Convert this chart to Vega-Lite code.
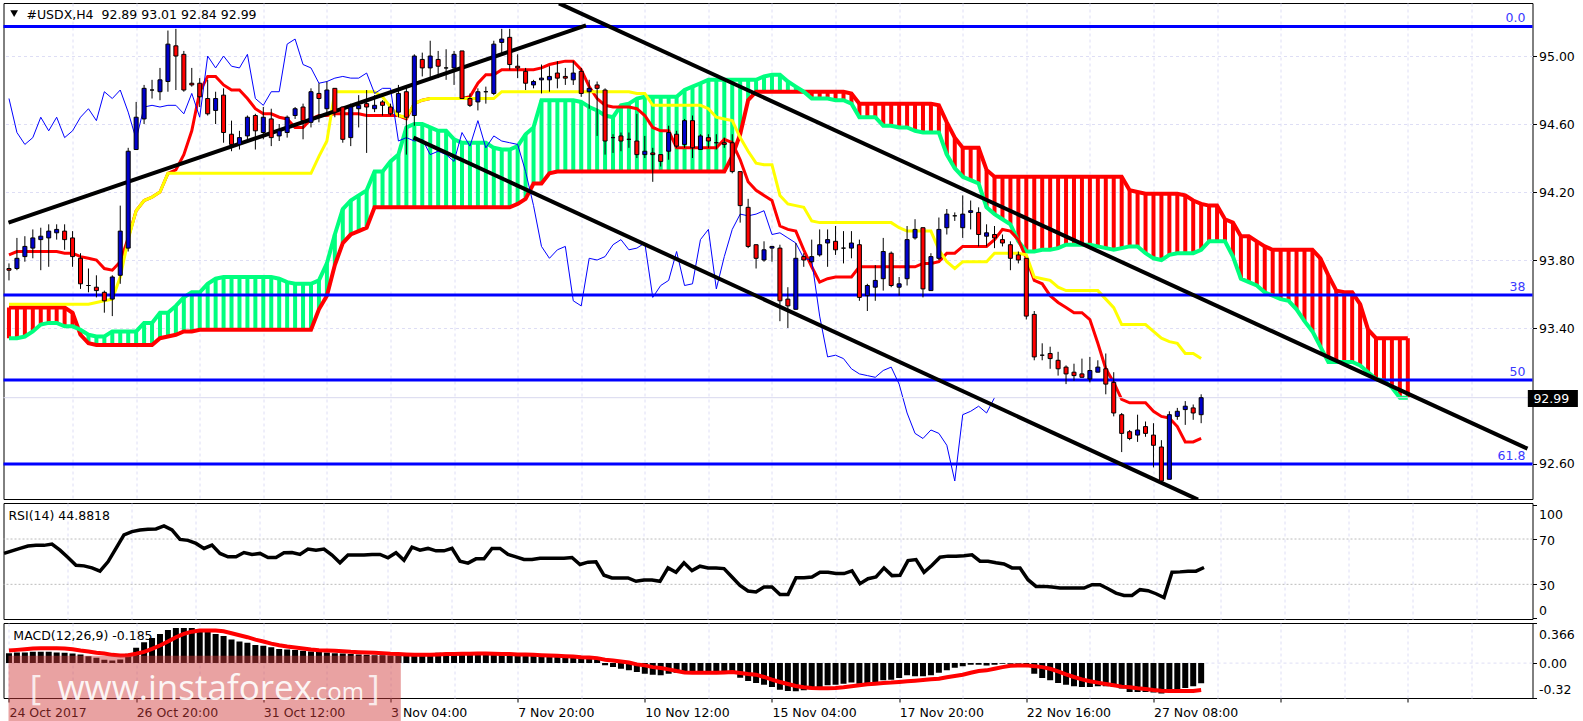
{"$schema":"https://vega.github.io/schema/vega-lite/v6.json","background":"white","padding":{"left":1.5,"top":2,"right":0,"bottom":0},"autosize":{"type":"pad"},"spacing":2,
"config":{"view":{"stroke":"#000","strokeWidth":1},"text":{"font":"DejaVu Sans","fontSize":12.5}},
"datasets":{
"fib":[{"name":"0.0","price":95.174},{"name":"38","price":93.594},{"name":"50","price":93.094},{"name":"61.8","price":92.6}],
"trend":[{"line":"rising","bar":-0.06,"price":94.02},{"line":"rising","bar":72.6,"price":95.18},{"line":"channel top","bar":69.2,"price":95.31},{"line":"channel top","bar":191.06,"price":92.69},{"line":"channel bottom","bar":50.9,"price":94.52},{"line":"channel bottom","bar":149.6,"price":92.39}],
"cloud":[
{"bar":0,"a":93.34,"b":93.52},{"bar":1,"a":93.34,"b":93.52},{"bar":2,"a":93.35,"b":93.52},{"bar":3,"a":93.38,"b":93.52},{"bar":4,"a":93.42,"b":93.52},{"bar":5,"a":93.43,"b":93.52},{"bar":6,"a":93.43,"b":93.52},{"bar":7,"a":93.41,"b":93.52},{"bar":8,"a":93.41,"b":93.49},{"bar":9,"a":93.39,"b":93.36},{"bar":10,"a":93.36,"b":93.31},{"bar":11,"a":93.35,"b":93.3},{"bar":12,"a":93.35,"b":93.3},{"bar":13,"a":93.38,"b":93.3},{"bar":14,"a":93.38,"b":93.3},{"bar":15,"a":93.38,"b":93.3},{"bar":16,"a":93.38,"b":93.3},{"bar":17,"a":93.43,"b":93.3},{"bar":18,"a":93.43,"b":93.3},{"bar":19,"a":93.49,"b":93.34},
{"bar":20,"a":93.49,"b":93.35},{"bar":21,"a":93.53,"b":93.36},{"bar":22,"a":93.58,"b":93.38},{"bar":23,"a":93.61,"b":93.38},{"bar":24,"a":93.61,"b":93.39},{"bar":25,"a":93.66,"b":93.39},{"bar":26,"a":93.69,"b":93.39},{"bar":27,"a":93.7,"b":93.39},{"bar":28,"a":93.7,"b":93.39},{"bar":29,"a":93.7,"b":93.39},{"bar":30,"a":93.7,"b":93.39},{"bar":31,"a":93.7,"b":93.39},{"bar":32,"a":93.7,"b":93.39},{"bar":33,"a":93.7,"b":93.39},{"bar":34,"a":93.69,"b":93.39},{"bar":35,"a":93.67,"b":93.39},{"bar":36,"a":93.66,"b":93.39},{"bar":37,"a":93.66,"b":93.39},{"bar":38,"a":93.66,"b":93.39},{"bar":39,"a":93.68,"b":93.51},
{"bar":40,"a":93.78,"b":93.59},{"bar":41,"a":93.95,"b":93.77},{"bar":42,"a":94.1,"b":93.9},{"bar":43,"a":94.15,"b":93.95},{"bar":44,"a":94.18,"b":93.97},{"bar":45,"a":94.21,"b":93.99},{"bar":46,"a":94.32,"b":94.11},{"bar":47,"a":94.32,"b":94.11},{"bar":48,"a":94.38,"b":94.11},{"bar":49,"a":94.42,"b":94.11},{"bar":50,"a":94.58,"b":94.11},{"bar":51,"a":94.6,"b":94.11},{"bar":52,"a":94.6,"b":94.11},{"bar":53,"a":94.58,"b":94.11},{"bar":54,"a":94.56,"b":94.11},{"bar":55,"a":94.56,"b":94.11},{"bar":56,"a":94.51,"b":94.11},{"bar":57,"a":94.49,"b":94.11},{"bar":58,"a":94.49,"b":94.11},{"bar":59,"a":94.49,"b":94.11},
{"bar":60,"a":94.49,"b":94.11},{"bar":61,"a":94.46,"b":94.11},{"bar":62,"a":94.45,"b":94.11},{"bar":63,"a":94.45,"b":94.11},{"bar":64,"a":94.47,"b":94.13},{"bar":65,"a":94.54,"b":94.16},{"bar":66,"a":94.58,"b":94.25},{"bar":67,"a":94.74,"b":94.25},{"bar":68,"a":94.74,"b":94.31},{"bar":69,"a":94.74,"b":94.32},{"bar":70,"a":94.74,"b":94.32},{"bar":71,"a":94.74,"b":94.32},{"bar":72,"a":94.73,"b":94.32},{"bar":73,"a":94.7,"b":94.32},{"bar":74,"a":94.68,"b":94.32},{"bar":75,"a":94.65,"b":94.32},{"bar":76,"a":94.64,"b":94.32},{"bar":77,"a":94.71,"b":94.32},{"bar":78,"a":94.72,"b":94.32},{"bar":79,"a":94.75,"b":94.32},
{"bar":80,"a":94.76,"b":94.32},{"bar":81,"a":94.76,"b":94.32},{"bar":82,"a":94.76,"b":94.32},{"bar":83,"a":94.76,"b":94.32},{"bar":84,"a":94.76,"b":94.32},{"bar":85,"a":94.8,"b":94.32},{"bar":86,"a":94.82,"b":94.32},{"bar":87,"a":94.84,"b":94.32},{"bar":88,"a":94.86,"b":94.32},{"bar":89,"a":94.86,"b":94.32},{"bar":90,"a":94.86,"b":94.32},{"bar":91,"a":94.86,"b":94.41},{"bar":92,"a":94.86,"b":94.54},{"bar":93,"a":94.86,"b":94.74},{"bar":94,"a":94.86,"b":94.79},{"bar":95,"a":94.88,"b":94.79},{"bar":96,"a":94.89,"b":94.79},{"bar":97,"a":94.89,"b":94.79},{"bar":98,"a":94.85,"b":94.79},{"bar":99,"a":94.82,"b":94.79},
{"bar":100,"a":94.79,"b":94.79},{"bar":101,"a":94.75,"b":94.79},{"bar":102,"a":94.75,"b":94.79},{"bar":103,"a":94.75,"b":94.79},{"bar":104,"a":94.74,"b":94.79},{"bar":105,"a":94.74,"b":94.79},{"bar":106,"a":94.72,"b":94.78},{"bar":107,"a":94.64,"b":94.72},{"bar":108,"a":94.64,"b":94.72},{"bar":109,"a":94.64,"b":94.72},{"bar":110,"a":94.59,"b":94.72},{"bar":111,"a":94.59,"b":94.72},{"bar":112,"a":94.58,"b":94.72},{"bar":113,"a":94.58,"b":94.72},{"bar":114,"a":94.56,"b":94.72},{"bar":115,"a":94.55,"b":94.72},{"bar":116,"a":94.55,"b":94.72},{"bar":117,"a":94.55,"b":94.71},{"bar":118,"a":94.42,"b":94.61},{"bar":119,"a":94.34,"b":94.52},
{"bar":120,"a":94.29,"b":94.46},{"bar":121,"a":94.27,"b":94.46},{"bar":122,"a":94.25,"b":94.46},{"bar":123,"a":94.11,"b":94.33},{"bar":124,"a":94.07,"b":94.29},{"bar":125,"a":94.04,"b":94.29},{"bar":126,"a":94.01,"b":94.29},{"bar":127,"a":93.91,"b":94.29},{"bar":128,"a":93.85,"b":94.29},{"bar":129,"a":93.85,"b":94.29},{"bar":130,"a":93.86,"b":94.29},{"bar":131,"a":93.86,"b":94.29},{"bar":132,"a":93.87,"b":94.29},{"bar":133,"a":93.89,"b":94.29},{"bar":134,"a":93.89,"b":94.29},{"bar":135,"a":93.89,"b":94.29},{"bar":136,"a":93.89,"b":94.29},{"bar":137,"a":93.88,"b":94.29},{"bar":138,"a":93.87,"b":94.29},{"bar":139,"a":93.86,"b":94.29},
{"bar":140,"a":93.87,"b":94.29},{"bar":141,"a":93.88,"b":94.21},{"bar":142,"a":93.88,"b":94.2},{"bar":143,"a":93.84,"b":94.19},{"bar":144,"a":93.81,"b":94.19},{"bar":145,"a":93.8,"b":94.19},{"bar":146,"a":93.83,"b":94.19},{"bar":147,"a":93.84,"b":94.19},{"bar":148,"a":93.84,"b":94.18},{"bar":149,"a":93.84,"b":94.15},{"bar":150,"a":93.86,"b":94.13},{"bar":151,"a":93.91,"b":94.12},{"bar":152,"a":93.91,"b":94.12},{"bar":153,"a":93.91,"b":94.04},{"bar":154,"a":93.82,"b":94.02},{"bar":155,"a":93.69,"b":93.94},{"bar":156,"a":93.67,"b":93.94},{"bar":157,"a":93.65,"b":93.91},{"bar":158,"a":93.61,"b":93.88},{"bar":159,"a":93.59,"b":93.86},
{"bar":160,"a":93.57,"b":93.86},{"bar":161,"a":93.56,"b":93.86},{"bar":162,"a":93.51,"b":93.86},{"bar":163,"a":93.44,"b":93.86},{"bar":164,"a":93.38,"b":93.86},{"bar":165,"a":93.29,"b":93.81},{"bar":166,"a":93.2,"b":93.71},{"bar":167,"a":93.2,"b":93.62},{"bar":168,"a":93.2,"b":93.61},{"bar":169,"a":93.2,"b":93.61},{"bar":170,"a":93.18,"b":93.54},{"bar":171,"a":93.14,"b":93.39},{"bar":172,"a":93.1,"b":93.34},{"bar":173,"a":93.09,"b":93.34},{"bar":174,"a":93.05,"b":93.34},{"bar":175,"a":92.99,"b":93.34},{"bar":176,"a":92.99,"b":93.34}],
"candles":[
{"bar":0,"o":93.75,"h":93.78,"l":93.68,"c":93.74,"tenkan":93.83,"kijun":93.54,"chikou":94.75,"rsi":57.3,"hist":0.092,"signal":0.116},
{"bar":1,"o":93.75,"h":93.93,"l":93.74,"c":93.81,"tenkan":93.85,"kijun":93.54,"chikou":94.55,"rsi":59.6,"hist":0.098,"signal":0.122},
{"bar":2,"o":93.82,"h":93.94,"l":93.79,"c":93.88,"tenkan":93.85,"kijun":93.54,"chikou":94.48,"rsi":61.7,"hist":0.098,"signal":0.128},
{"bar":3,"o":93.87,"h":93.98,"l":93.81,"c":93.93,"tenkan":93.85,"kijun":93.54,"chikou":94.52,"rsi":63.8,"hist":0.104,"signal":0.135},
{"bar":4,"o":93.92,"h":93.99,"l":93.74,"c":93.94,"tenkan":93.85,"kijun":93.54,"chikou":94.64,"rsi":64.4,"hist":0.104,"signal":0.138},
{"bar":5,"o":93.93,"h":94.01,"l":93.76,"c":93.97,"tenkan":93.85,"kijun":93.54,"chikou":94.56,"rsi":64.4,"hist":0.104,"signal":0.138},
{"bar":6,"o":93.96,"h":94.01,"l":93.92,"c":93.98,"tenkan":93.85,"kijun":93.54,"chikou":94.64,"rsi":65.6,"hist":0.098,"signal":0.138},
{"bar":7,"o":93.97,"h":94.01,"l":93.86,"c":93.92,"tenkan":93.84,"kijun":93.54,"chikou":94.52,"rsi":60.2,"hist":0.095,"signal":0.135},
{"bar":8,"o":93.93,"h":93.97,"l":93.76,"c":93.82,"tenkan":93.84,"kijun":93.54,"chikou":94.56,"rsi":53.7,"hist":0.089,"signal":0.128},
{"bar":9,"o":93.81,"h":93.84,"l":93.63,"c":93.66,"tenkan":93.82,"kijun":93.54,"chikou":94.64,"rsi":46.9,"hist":0.08,"signal":0.116},
{"bar":10,"o":93.65,"h":93.75,"l":93.61,"c":93.65,"tenkan":93.81,"kijun":93.54,"chikou":94.69,"rsi":46.3,"hist":0.064,"signal":0.107},
{"bar":11,"o":93.64,"h":93.71,"l":93.58,"c":93.62,"tenkan":93.8,"kijun":93.55,"chikou":94.62,"rsi":44.5,"hist":0.049,"signal":0.095},
{"bar":12,"o":93.61,"h":93.62,"l":93.49,"c":93.56,"tenkan":93.75,"kijun":93.56,"chikou":94.79,"rsi":41.6,"hist":0.03,"signal":0.089},
{"bar":13,"o":93.57,"h":93.71,"l":93.47,"c":93.7,"tenkan":93.74,"kijun":93.57,"chikou":94.75,"rsi":49.9,"hist":0.024,"signal":0.076},
{"bar":14,"o":93.71,"h":94.12,"l":93.66,"c":93.97,"tenkan":93.79,"kijun":93.7,"chikou":94.8,"rsi":61.7,"hist":0.034,"signal":0.07},
{"bar":15,"o":93.87,"h":94.46,"l":93.85,"c":94.44,"tenkan":93.93,"kijun":93.92,"chikou":94.67,"rsi":73.6,"hist":0.086,"signal":0.073},
{"bar":16,"o":94.45,"h":94.73,"l":94.45,"c":94.64,"tenkan":94.09,"kijun":94.09,"chikou":94.51,"rsi":76.5,"hist":0.141,"signal":0.086},
{"bar":17,"o":94.63,"h":94.83,"l":94.6,"c":94.81,"tenkan":94.15,"kijun":94.15,"chikou":94.7,"rsi":78,"hist":0.193,"signal":0.104},
{"bar":18,"o":94.8,"h":94.86,"l":94.75,"c":94.8,"tenkan":94.17,"kijun":94.17,"chikou":94.71,"rsi":78.6,"hist":0.232,"signal":0.131},
{"bar":19,"o":94.79,"h":94.93,"l":94.74,"c":94.86,"tenkan":94.2,"kijun":94.2,"chikou":94.7,"rsi":78.9,"hist":0.269,"signal":0.162},
{"bar":20,"o":94.85,"h":95.15,"l":94.79,"c":95.07,"tenkan":94.31,"kijun":94.31,"chikou":94.71,"rsi":81.6,"hist":0.306,"signal":0.199},
{"bar":21,"o":95.06,"h":95.16,"l":94.8,"c":95,"tenkan":94.33,"kijun":94.31,"chikou":94.71,"rsi":78,"hist":0.324,"signal":0.239},
{"bar":22,"o":95.01,"h":95.03,"l":94.79,"c":94.8,"tenkan":94.42,"kijun":94.31,"chikou":94.66,"rsi":69.7,"hist":0.324,"signal":0.269},
{"bar":23,"o":94.84,"h":94.93,"l":94.82,"c":94.83,"tenkan":94.56,"kijun":94.31,"chikou":94.78,"rsi":68.8,"hist":0.324,"signal":0.29},
{"bar":24,"o":94.84,"h":94.87,"l":94.7,"c":94.76,"tenkan":94.79,"kijun":94.31,"chikou":94.64,"rsi":66.1,"hist":0.306,"signal":0.3},
{"bar":25,"o":94.75,"h":94.86,"l":94.65,"c":94.66,"tenkan":94.88,"kijun":94.31,"chikou":95,"rsi":61.7,"hist":0.29,"signal":0.3},
{"bar":26,"o":94.68,"h":94.79,"l":94.6,"c":94.75,"tenkan":94.88,"kijun":94.31,"chikou":94.93,"rsi":64.7,"hist":0.269,"signal":0.3},
{"bar":27,"o":94.77,"h":94.81,"l":94.49,"c":94.55,"tenkan":94.83,"kijun":94.31,"chikou":95,"rsi":57.3,"hist":0.251,"signal":0.294},
{"bar":28,"o":94.54,"h":94.62,"l":94.44,"c":94.48,"tenkan":94.8,"kijun":94.31,"chikou":94.94,"rsi":54.3,"hist":0.217,"signal":0.275},
{"bar":29,"o":94.48,"h":94.56,"l":94.45,"c":94.52,"tenkan":94.8,"kijun":94.31,"chikou":94.93,"rsi":54.3,"hist":0.199,"signal":0.257},
{"bar":30,"o":94.53,"h":94.65,"l":94.51,"c":94.64,"tenkan":94.75,"kijun":94.31,"chikou":95.01,"rsi":58.1,"hist":0.187,"signal":0.239},
{"bar":31,"o":94.65,"h":94.66,"l":94.45,"c":94.56,"tenkan":94.69,"kijun":94.31,"chikou":94.75,"rsi":56.4,"hist":0.168,"signal":0.217},
{"bar":32,"o":94.55,"h":94.7,"l":94.51,"c":94.64,"tenkan":94.66,"kijun":94.31,"chikou":94.71,"rsi":57.3,"hist":0.159,"signal":0.199},
{"bar":33,"o":94.63,"h":94.69,"l":94.47,"c":94.52,"tenkan":94.66,"kijun":94.31,"chikou":94.79,"rsi":53.7,"hist":0.147,"signal":0.18},
{"bar":34,"o":94.53,"h":94.6,"l":94.5,"c":94.56,"tenkan":94.64,"kijun":94.31,"chikou":94.79,"rsi":53.7,"hist":0.131,"signal":0.165},
{"bar":35,"o":94.55,"h":94.65,"l":94.52,"c":94.64,"tenkan":94.63,"kijun":94.31,"chikou":95.07,"rsi":57.9,"hist":0.125,"signal":0.153},
{"bar":36,"o":94.65,"h":94.7,"l":94.63,"c":94.69,"tenkan":94.58,"kijun":94.31,"chikou":95.1,"rsi":58.1,"hist":0.122,"signal":0.144},
{"bar":37,"o":94.7,"h":94.72,"l":94.51,"c":94.62,"tenkan":94.58,"kijun":94.31,"chikou":94.95,"rsi":56.4,"hist":0.113,"signal":0.135},
{"bar":38,"o":94.61,"h":94.81,"l":94.58,"c":94.79,"tenkan":94.63,"kijun":94.31,"chikou":94.93,"rsi":61.1,"hist":0.107,"signal":0.125},
{"bar":39,"o":94.78,"h":94.84,"l":94.61,"c":94.75,"tenkan":94.65,"kijun":94.41,"chikou":94.84,"rsi":60.2,"hist":0.104,"signal":0.119},
{"bar":40,"o":94.69,"h":94.85,"l":94.66,"c":94.8,"tenkan":94.65,"kijun":94.5,"chikou":94.85,"rsi":61.1,"hist":0.098,"signal":0.116},
{"bar":41,"o":94.81,"h":94.81,"l":94.64,"c":94.67,"tenkan":94.66,"kijun":94.79,"chikou":94.87,"rsi":55.8,"hist":0.092,"signal":0.113},
{"bar":42,"o":94.7,"h":94.7,"l":94.49,"c":94.51,"tenkan":94.66,"kijun":94.79,"chikou":94.88,"rsi":49,"hist":0.089,"signal":0.11},
{"bar":43,"o":94.52,"h":94.72,"l":94.47,"c":94.7,"tenkan":94.66,"kijun":94.79,"chikou":94.87,"rsi":55.8,"hist":0.083,"signal":0.104},
{"bar":44,"o":94.69,"h":94.77,"l":94.58,"c":94.71,"tenkan":94.66,"kijun":94.79,"chikou":94.87,"rsi":55.8,"hist":0.08,"signal":0.101},
{"bar":45,"o":94.72,"h":94.8,"l":94.43,"c":94.7,"tenkan":94.65,"kijun":94.79,"chikou":94.9,"rsi":55.8,"hist":0.076,"signal":0.098},
{"bar":46,"o":94.69,"h":94.77,"l":94.67,"c":94.71,"tenkan":94.65,"kijun":94.79,"chikou":94.78,"rsi":56.4,"hist":0.073,"signal":0.095},
{"bar":47,"o":94.73,"h":94.74,"l":94.65,"c":94.71,"tenkan":94.65,"kijun":94.76,"chikou":94.81,"rsi":56.4,"hist":0.073,"signal":0.092},
{"bar":48,"o":94.7,"h":94.72,"l":94.65,"c":94.66,"tenkan":94.65,"kijun":94.7,"chikou":94.81,"rsi":53.4,"hist":0.07,"signal":0.086},
{"bar":49,"o":94.67,"h":94.83,"l":94.64,"c":94.78,"tenkan":94.65,"kijun":94.65,"chikou":94.5,"rsi":57.9,"hist":0.076,"signal":0.083},
{"bar":50,"o":94.79,"h":94.82,"l":94.42,"c":94.64,"tenkan":94.63,"kijun":94.64,"chikou":94.52,"rsi":51.3,"hist":0.07,"signal":0.08},
{"bar":51,"o":94.65,"h":95.01,"l":94.59,"c":95,"tenkan":94.72,"kijun":94.72,"chikou":94.5,"rsi":62.9,"hist":0.085,"signal":0.076},
{"bar":52,"o":94.98,"h":95.02,"l":94.88,"c":94.93,"tenkan":94.74,"kijun":94.74,"chikou":94.51,"rsi":60.2,"hist":0.085,"signal":0.076},
{"bar":53,"o":94.93,"h":95.09,"l":94.87,"c":95,"tenkan":94.75,"kijun":94.75,"chikou":94.42,"rsi":61.7,"hist":0.09,"signal":0.076},
{"bar":54,"o":94.98,"h":95.03,"l":94.87,"c":94.94,"tenkan":94.75,"kijun":94.75,"chikou":94.44,"rsi":59.6,"hist":0.095,"signal":0.08},
{"bar":55,"o":94.93,"h":95.04,"l":94.86,"c":94.93,"tenkan":94.75,"kijun":94.75,"chikou":94.42,"rsi":59.6,"hist":0.09,"signal":0.083},
{"bar":56,"o":94.93,"h":95.03,"l":94.83,"c":95.01,"tenkan":94.75,"kijun":94.75,"chikou":94.38,"rsi":61.7,"hist":0.1,"signal":0.083},
{"bar":57,"o":95.03,"h":95.03,"l":94.75,"c":94.75,"tenkan":94.75,"kijun":94.75,"chikou":94.55,"rsi":50.4,"hist":0.095,"signal":0.086},
{"bar":58,"o":94.75,"h":94.78,"l":94.7,"c":94.71,"tenkan":94.76,"kijun":94.75,"chikou":94.47,"rsi":48.7,"hist":0.09,"signal":0.086},
{"bar":59,"o":94.73,"h":94.81,"l":94.68,"c":94.79,"tenkan":94.84,"kijun":94.75,"chikou":94.62,"rsi":52.5,"hist":0.095,"signal":0.089},
{"bar":60,"o":94.79,"h":94.82,"l":94.72,"c":94.79,"tenkan":94.89,"kijun":94.75,"chikou":94.46,"rsi":52.5,"hist":0.09,"signal":0.089},
{"bar":61,"o":94.78,"h":95.09,"l":94.77,"c":95.07,"tenkan":94.89,"kijun":94.75,"chikou":94.53,"rsi":61.7,"hist":0.095,"signal":0.086},
{"bar":62,"o":95.08,"h":95.16,"l":95.01,"c":95.1,"tenkan":94.92,"kijun":94.79,"chikou":94.5,"rsi":61.7,"hist":0.1,"signal":0.083},
{"bar":63,"o":95.11,"h":95.16,"l":94.92,"c":94.95,"tenkan":94.92,"kijun":94.79,"chikou":94.49,"rsi":56.4,"hist":0.09,"signal":0.083},
{"bar":64,"o":94.94,"h":95.01,"l":94.87,"c":94.93,"tenkan":94.92,"kijun":94.79,"chikou":94.48,"rsi":54.3,"hist":0.085,"signal":0.08},
{"bar":65,"o":94.91,"h":94.93,"l":94.8,"c":94.84,"tenkan":94.92,"kijun":94.79,"chikou":94.32,"rsi":51.9,"hist":0.08,"signal":0.08},
{"bar":66,"o":94.83,"h":94.86,"l":94.81,"c":94.85,"tenkan":94.92,"kijun":94.79,"chikou":94.12,"rsi":51.9,"hist":0.08,"signal":0.076},
{"bar":67,"o":94.86,"h":94.95,"l":94.78,"c":94.87,"tenkan":94.93,"kijun":94.79,"chikou":93.88,"rsi":53.1,"hist":0.075,"signal":0.073},
{"bar":68,"o":94.86,"h":94.94,"l":94.79,"c":94.88,"tenkan":94.95,"kijun":94.79,"chikou":93.81,"rsi":53.1,"hist":0.075,"signal":0.07},
{"bar":69,"o":94.9,"h":94.97,"l":94.81,"c":94.87,"tenkan":94.96,"kijun":94.79,"chikou":93.86,"rsi":53.1,"hist":0.07,"signal":0.067},
{"bar":70,"o":94.88,"h":94.93,"l":94.83,"c":94.87,"tenkan":94.97,"kijun":94.79,"chikou":93.88,"rsi":53.1,"hist":0.065,"signal":0.064},
{"bar":71,"o":94.86,"h":94.97,"l":94.83,"c":94.9,"tenkan":94.97,"kijun":94.79,"chikou":93.56,"rsi":53.7,"hist":0.06,"signal":0.061},
{"bar":72,"o":94.91,"h":94.93,"l":94.76,"c":94.78,"tenkan":94.92,"kijun":94.79,"chikou":93.53,"rsi":47.5,"hist":0.055,"signal":0.055},
{"bar":73,"o":94.79,"h":94.86,"l":94.69,"c":94.81,"tenkan":94.82,"kijun":94.79,"chikou":93.81,"rsi":49.6,"hist":0.045,"signal":0.052},
{"bar":74,"o":94.83,"h":94.85,"l":94.53,"c":94.81,"tenkan":94.75,"kijun":94.79,"chikou":93.8,"rsi":49.9,"hist":0.035,"signal":0.046},
{"bar":75,"o":94.8,"h":94.81,"l":94.42,"c":94.5,"tenkan":94.71,"kijun":94.79,"chikou":93.82,"rsi":38,"hist":-0.02,"signal":0.031},
{"bar":76,"o":94.52,"h":94.54,"l":94.43,"c":94.52,"tenkan":94.7,"kijun":94.79,"chikou":93.89,"rsi":35.6,"hist":-0.037,"signal":0.024},
{"bar":77,"o":94.53,"h":94.55,"l":94.44,"c":94.5,"tenkan":94.7,"kijun":94.79,"chikou":93.92,"rsi":35.6,"hist":-0.052,"signal":0.015},
{"bar":78,"o":94.51,"h":94.55,"l":94.46,"c":94.51,"tenkan":94.7,"kijun":94.79,"chikou":93.86,"rsi":35.6,"hist":-0.067,"signal":0.006},
{"bar":79,"o":94.5,"h":94.66,"l":94.4,"c":94.42,"tenkan":94.69,"kijun":94.78,"chikou":93.87,"rsi":32.7,"hist":-0.083,"signal":-0.012},
{"bar":80,"o":94.42,"h":94.53,"l":94.4,"c":94.44,"tenkan":94.65,"kijun":94.78,"chikou":93.9,"rsi":33.9,"hist":-0.098,"signal":-0.021},
{"bar":81,"o":94.43,"h":94.46,"l":94.26,"c":94.42,"tenkan":94.58,"kijun":94.71,"chikou":93.58,"rsi":33.9,"hist":-0.107,"signal":-0.037},
{"bar":82,"o":94.42,"h":94.42,"l":94.35,"c":94.38,"tenkan":94.56,"kijun":94.71,"chikou":93.65,"rsi":32.7,"hist":-0.113,"signal":-0.046},
{"bar":83,"o":94.44,"h":94.59,"l":94.39,"c":94.55,"tenkan":94.56,"kijun":94.71,"chikou":93.68,"rsi":44.5,"hist":-0.098,"signal":-0.058},
{"bar":84,"o":94.54,"h":94.56,"l":94.46,"c":94.47,"tenkan":94.46,"kijun":94.71,"chikou":93.85,"rsi":40.7,"hist":-0.089,"signal":-0.073},
{"bar":85,"o":94.48,"h":94.63,"l":94.46,"c":94.62,"tenkan":94.46,"kijun":94.71,"chikou":93.65,"rsi":49,"hist":-0.083,"signal":-0.086},
{"bar":86,"o":94.62,"h":94.65,"l":94.4,"c":94.46,"tenkan":94.46,"kijun":94.71,"chikou":93.66,"rsi":42.1,"hist":-0.083,"signal":-0.089},
{"bar":87,"o":94.45,"h":94.54,"l":94.45,"c":94.53,"tenkan":94.46,"kijun":94.71,"chikou":93.92,"rsi":46,"hist":-0.083,"signal":-0.089},
{"bar":88,"o":94.52,"h":94.54,"l":94.46,"c":94.5,"tenkan":94.46,"kijun":94.69,"chikou":93.98,"rsi":44.5,"hist":-0.083,"signal":-0.089},
{"bar":89,"o":94.49,"h":94.54,"l":94.45,"c":94.49,"tenkan":94.46,"kijun":94.64,"chikou":93.63,"rsi":44.5,"hist":-0.076,"signal":-0.089},
{"bar":90,"o":94.49,"h":94.52,"l":94.46,"c":94.48,"tenkan":94.51,"kijun":94.63,"chikou":93.82,"rsi":43.9,"hist":-0.083,"signal":-0.086},
{"bar":91,"o":94.49,"h":94.54,"l":94.31,"c":94.32,"tenkan":94.49,"kijun":94.62,"chikou":93.98,"rsi":36.5,"hist":-0.098,"signal":-0.083},
{"bar":92,"o":94.32,"h":94.32,"l":94.02,"c":94.12,"tenkan":94.39,"kijun":94.52,"chikou":94.07,"rsi":29.1,"hist":-0.135,"signal":-0.092},
{"bar":93,"o":94.11,"h":94.16,"l":93.87,"c":93.88,"tenkan":94.26,"kijun":94.44,"chikou":94.06,"rsi":24.1,"hist":-0.165,"signal":-0.101},
{"bar":94,"o":93.89,"h":93.89,"l":93.75,"c":93.81,"tenkan":94.21,"kijun":94.37,"chikou":94.07,"rsi":23.2,"hist":-0.183,"signal":-0.107},
{"bar":95,"o":93.8,"h":93.91,"l":93.79,"c":93.86,"tenkan":94.18,"kijun":94.36,"chikou":94.09,"rsi":27.6,"hist":-0.199,"signal":-0.128},
{"bar":96,"o":93.87,"h":93.88,"l":93.79,"c":93.88,"tenkan":94.15,"kijun":94.36,"chikou":93.95,"rsi":27.6,"hist":-0.22,"signal":-0.153},
{"bar":97,"o":93.87,"h":93.89,"l":93.44,"c":93.56,"tenkan":94,"kijun":94.18,"chikou":93.96,"rsi":21.1,"hist":-0.245,"signal":-0.174},
{"bar":98,"o":93.57,"h":93.64,"l":93.4,"c":93.53,"tenkan":93.98,"kijun":94.13,"chikou":93.93,"rsi":21.1,"hist":-0.257,"signal":-0.193},
{"bar":99,"o":93.51,"h":93.9,"l":93.51,"c":93.81,"tenkan":93.97,"kijun":94.12,"chikou":93.9,"rsi":35.9,"hist":-0.26,"signal":-0.211},
{"bar":100,"o":93.82,"h":93.84,"l":93.76,"c":93.8,"tenkan":93.86,"kijun":94.11,"chikou":93.81,"rsi":35.9,"hist":-0.25,"signal":-0.223},
{"bar":101,"o":93.79,"h":93.92,"l":93.78,"c":93.82,"tenkan":93.76,"kijun":94.03,"chikou":93.8,"rsi":36.5,"hist":-0.242,"signal":-0.229},
{"bar":102,"o":93.83,"h":93.98,"l":93.82,"c":93.89,"tenkan":93.67,"kijun":94.02,"chikou":93.47,"rsi":40.7,"hist":-0.226,"signal":-0.232},
{"bar":103,"o":93.9,"h":93.98,"l":93.76,"c":93.92,"tenkan":93.69,"kijun":94.02,"chikou":93.23,"rsi":40.7,"hist":-0.205,"signal":-0.232},
{"bar":104,"o":93.91,"h":94,"l":93.83,"c":93.86,"tenkan":93.7,"kijun":94.02,"chikou":93.24,"rsi":39.5,"hist":-0.199,"signal":-0.229},
{"bar":105,"o":93.87,"h":93.97,"l":93.78,"c":93.87,"tenkan":93.7,"kijun":94.02,"chikou":93.22,"rsi":39.5,"hist":-0.19,"signal":-0.223},
{"bar":106,"o":93.87,"h":93.97,"l":93.81,"c":93.9,"tenkan":93.7,"kijun":94.02,"chikou":93.16,"rsi":41.9,"hist":-0.18,"signal":-0.214},
{"bar":107,"o":93.89,"h":93.92,"l":93.56,"c":93.58,"tenkan":93.76,"kijun":94.02,"chikou":93.13,"rsi":30.6,"hist":-0.19,"signal":-0.205},
{"bar":108,"o":93.59,"h":93.66,"l":93.5,"c":93.65,"tenkan":93.76,"kijun":94.02,"chikou":93.12,"rsi":35,"hist":-0.183,"signal":-0.196},
{"bar":109,"o":93.64,"h":93.77,"l":93.56,"c":93.68,"tenkan":93.76,"kijun":94.02,"chikou":93.11,"rsi":36.5,"hist":-0.174,"signal":-0.19},
{"bar":110,"o":93.69,"h":93.93,"l":93.62,"c":93.85,"tenkan":93.76,"kijun":94.02,"chikou":93.15,"rsi":44.5,"hist":-0.159,"signal":-0.183},
{"bar":111,"o":93.84,"h":93.85,"l":93.64,"c":93.65,"tenkan":93.76,"kijun":94.02,"chikou":93.17,"rsi":37.7,"hist":-0.153,"signal":-0.18},
{"bar":112,"o":93.64,"h":93.7,"l":93.59,"c":93.66,"tenkan":93.76,"kijun":93.99,"chikou":93.07,"rsi":38,"hist":-0.138,"signal":-0.174},
{"bar":113,"o":93.69,"h":94,"l":93.65,"c":93.92,"tenkan":93.76,"kijun":93.97,"chikou":92.9,"rsi":51,"hist":-0.113,"signal":-0.168},
{"bar":114,"o":93.93,"h":94.04,"l":93.92,"c":93.98,"tenkan":93.76,"kijun":93.97,"chikou":92.78,"rsi":51.9,"hist":-0.122,"signal":-0.162},
{"bar":115,"o":93.99,"h":93.99,"l":93.58,"c":93.63,"tenkan":93.78,"kijun":93.97,"chikou":92.75,"rsi":40.7,"hist":-0.122,"signal":-0.156},
{"bar":116,"o":93.62,"h":93.84,"l":93.62,"c":93.82,"tenkan":93.78,"kijun":93.97,"chikou":92.8,"rsi":46.9,"hist":-0.113,"signal":-0.15},
{"bar":117,"o":93.81,"h":94.05,"l":93.8,"c":93.98,"tenkan":93.79,"kijun":93.86,"chikou":92.78,"rsi":54,"hist":-0.089,"signal":-0.144},
{"bar":118,"o":93.99,"h":94.1,"l":93.95,"c":94.07,"tenkan":93.84,"kijun":93.79,"chikou":92.71,"rsi":54.9,"hist":-0.067,"signal":-0.131},
{"bar":119,"o":94.06,"h":94.08,"l":94.03,"c":94.06,"tenkan":93.84,"kijun":93.75,"chikou":92.5,"rsi":54.9,"hist":-0.043,"signal":-0.119},
{"bar":120,"o":93.99,"h":94.18,"l":93.93,"c":94.07,"tenkan":93.88,"kijun":93.79,"chikou":92.89,"rsi":55.2,"hist":-0.028,"signal":-0.107},
{"bar":121,"o":94.08,"h":94.15,"l":93.98,"c":94.09,"tenkan":93.88,"kijun":93.79,"chikou":92.91,"rsi":56.1,"hist":-0.015,"signal":-0.089},
{"bar":122,"o":94.08,"h":94.11,"l":93.88,"c":93.95,"tenkan":93.88,"kijun":93.79,"chikou":92.94,"rsi":50.4,"hist":-0.015,"signal":-0.073},
{"bar":123,"o":93.94,"h":94.01,"l":93.88,"c":93.96,"tenkan":93.88,"kijun":93.79,"chikou":92.9,"rsi":50.4,"hist":-0.021,"signal":-0.067},
{"bar":124,"o":93.95,"h":94,"l":93.87,"c":93.93,"tenkan":93.92,"kijun":93.84,"chikou":92.99,"rsi":49,"hist":-0.015,"signal":-0.052},
{"bar":125,"o":93.92,"h":93.95,"l":93.88,"c":93.9,"tenkan":93.98,"kijun":93.84,"rsi":48,"hist":-0.006,"signal":-0.037},
{"bar":126,"o":93.89,"h":93.91,"l":93.74,"c":93.81,"tenkan":93.97,"kijun":93.84,"rsi":44.5,"hist":-0.006,"signal":-0.024},
{"bar":127,"o":93.83,"h":93.85,"l":93.78,"c":93.8,"tenkan":93.92,"kijun":93.84,"rsi":44.5,"hist":-0.006,"signal":-0.021},
{"bar":128,"o":93.81,"h":93.81,"l":93.45,"c":93.47,"tenkan":93.81,"kijun":93.83,"rsi":34.1,"hist":-0.037,"signal":-0.021},
{"bar":129,"o":93.48,"h":93.5,"l":93.21,"c":93.23,"tenkan":93.68,"kijun":93.7,"rsi":28.2,"hist":-0.098,"signal":-0.028},
{"bar":130,"o":93.24,"h":93.31,"l":93.21,"c":93.24,"tenkan":93.66,"kijun":93.69,"rsi":28.2,"hist":-0.138,"signal":-0.037},
{"bar":131,"o":93.25,"h":93.29,"l":93.16,"c":93.22,"tenkan":93.59,"kijun":93.68,"rsi":27.6,"hist":-0.159,"signal":-0.052},
{"bar":132,"o":93.21,"h":93.26,"l":93.12,"c":93.16,"tenkan":93.55,"kijun":93.64,"rsi":26.7,"hist":-0.183,"signal":-0.076},
{"bar":133,"o":93.17,"h":93.18,"l":93.07,"c":93.13,"tenkan":93.52,"kijun":93.62,"rsi":26.7,"hist":-0.199,"signal":-0.104},
{"bar":134,"o":93.14,"h":93.19,"l":93.09,"c":93.12,"tenkan":93.49,"kijun":93.62,"rsi":26.7,"hist":-0.214,"signal":-0.128},
{"bar":135,"o":93.13,"h":93.22,"l":93.11,"c":93.11,"tenkan":93.49,"kijun":93.62,"rsi":26.7,"hist":-0.22,"signal":-0.15},
{"bar":136,"o":93.1,"h":93.23,"l":93.08,"c":93.15,"tenkan":93.45,"kijun":93.62,"rsi":29.7,"hist":-0.22,"signal":-0.168},
{"bar":137,"o":93.14,"h":93.21,"l":93.14,"c":93.17,"tenkan":93.31,"kijun":93.62,"rsi":29.7,"hist":-0.214,"signal":-0.18},
{"bar":138,"o":93.16,"h":93.25,"l":93.01,"c":93.07,"tenkan":93.16,"kijun":93.57,"rsi":26.1,"hist":-0.214,"signal":-0.193},
{"bar":139,"o":93.08,"h":93.14,"l":92.88,"c":92.9,"tenkan":93.08,"kijun":93.52,"rsi":22.3,"hist":-0.22,"signal":-0.205},
{"bar":140,"o":92.89,"h":92.9,"l":92.67,"c":92.78,"tenkan":92.98,"kijun":93.42,"rsi":20.2,"hist":-0.235,"signal":-0.217},
{"bar":141,"o":92.79,"h":92.8,"l":92.74,"c":92.75,"tenkan":92.96,"kijun":93.42,"rsi":20.2,"hist":-0.266,"signal":-0.223},
{"bar":142,"o":92.77,"h":92.89,"l":92.73,"c":92.8,"tenkan":92.96,"kijun":93.42,"rsi":25.3,"hist":-0.266,"signal":-0.232},
{"bar":143,"o":92.82,"h":92.85,"l":92.76,"c":92.78,"tenkan":92.96,"kijun":93.42,"rsi":24.4,"hist":-0.266,"signal":-0.239},
{"bar":144,"o":92.77,"h":92.84,"l":92.58,"c":92.71,"tenkan":92.91,"kijun":93.38,"rsi":21.7,"hist":-0.272,"signal":-0.248},
{"bar":145,"o":92.7,"h":92.74,"l":92.5,"c":92.5,"tenkan":92.88,"kijun":93.34,"rsi":18.4,"hist":-0.281,"signal":-0.254},
{"bar":146,"o":92.51,"h":92.91,"l":92.51,"c":92.89,"tenkan":92.87,"kijun":93.32,"rsi":40.7,"hist":-0.266,"signal":-0.257},
{"bar":147,"o":92.88,"h":92.93,"l":92.86,"c":92.91,"tenkan":92.82,"kijun":93.31,"rsi":41,"hist":-0.25,"signal":-0.257},
{"bar":148,"o":92.92,"h":92.97,"l":92.83,"c":92.94,"tenkan":92.73,"kijun":93.25,"rsi":41.6,"hist":-0.229,"signal":-0.257},
{"bar":149,"o":92.93,"h":92.95,"l":92.86,"c":92.9,"tenkan":92.73,"kijun":93.25,"rsi":41.6,"hist":-0.214,"signal":-0.257},
{"bar":150,"o":92.89,"h":93.01,"l":92.84,"c":92.99,"tenkan":92.75,"kijun":93.22,"rsi":44.88,"hist":-0.185,"signal":-0.248}
]},
"vconcat":[
{"width":1529,"height":496,
"layer":[
{"data":{"name":"cloud"},"mark":{"type":"rule","strokeWidth":4,"clip":true},"encoding":{"x":{"field":"bar","type":"quantitative","scale":{"domain":[-0.06,191.06],"nice":false,"zero":false},"axis":{"title":null,"labels":false,"ticks":false,"domain":false,"grid":true,"gridColor":"#dedef5","gridDash":[3,3],"tickCount":40,"values":[8,16,24,32,40,48,56,64,72,80,88,96,104,112,120,128,136,144,152,160,168,176,184]}},"y":{"field":"a","type":"quantitative","scale":{"domain":[92.394,95.312],"nice":false,"zero":false},"axis":{"orient":"right","title":null,"domain":false,"values":[95,94.6,94.2,93.8,93.4,92.6],"tickCount":20,"format":".2f","labelOverlap":false,"grid":true,"gridColor":"#dedef5","gridDash":[3,3],"tickColor":"#000","tickSize":4,"labelPadding":2,"labelFont":"DejaVu Sans","labelFontSize":12.5,"labelColor":"#000"}},"y2":{"field":"b"},"color":{"condition":{"test":"datum.a>datum.b","value":"#00ff7f"},"value":"#ff0000"}}},
{"data":{"name":"cloud"},"mark":{"type":"line","color":"#ff0000","strokeWidth":4,"clip":true},"encoding":{"x":{"field":"bar","type":"quantitative"},"y":{"field":"b","type":"quantitative"}}},
{"data":{"name":"cloud"},"mark":{"type":"line","color":"#00ff7f","strokeWidth":4,"clip":true},"encoding":{"x":{"field":"bar","type":"quantitative"},"y":{"field":"a","type":"quantitative"}}},
{"data":{"name":"candles"},"mark":{"type":"line","color":"#ff0000","strokeWidth":3,"clip":true},"encoding":{"x":{"field":"bar","type":"quantitative"},"y":{"field":"tenkan","type":"quantitative"}}},
{"data":{"name":"candles"},"mark":{"type":"line","color":"#ffff00","strokeWidth":3,"clip":true},"encoding":{"x":{"field":"bar","type":"quantitative"},"y":{"field":"kijun","type":"quantitative"}}},
{"data":{"name":"candles"},"mark":{"type":"line","color":"#0000ff","strokeWidth":1,"clip":true},"encoding":{"x":{"field":"bar","type":"quantitative"},"y":{"field":"chikou","type":"quantitative"}}},
{"data":{"values":[{"price":92.99}]},"mark":{"type":"rule","color":"#d8d8ee","strokeWidth":1},"encoding":{"y":{"field":"price","type":"quantitative"}}},
{"data":{"name":"fib"},"mark":{"type":"rule","color":"#0000ff","strokeWidth":3},"encoding":{"y":{"field":"price","type":"quantitative"}}},
{"data":{"name":"trend"},"mark":{"type":"line","color":"#000","strokeWidth":4,"clip":true},"encoding":{"x":{"field":"bar","type":"quantitative"},"detail":{"field":"line"},"y":{"field":"price","type":"quantitative"}}},
{"data":{"name":"candles"},"mark":{"type":"rule","color":"#000","strokeWidth":1,"clip":true},"encoding":{"x":{"field":"bar","type":"quantitative"},"y":{"field":"l","type":"quantitative"},"y2":{"field":"h"}}},
{"data":{"name":"candles"},"mark":{"type":"bar","orient":"vertical","size":4,"stroke":"#000","strokeWidth":1,"clip":true},"encoding":{"x":{"field":"bar","type":"quantitative"},"y":{"field":"o","type":"quantitative"},"y2":{"field":"c"},"color":{"condition":{"test":"datum.c>datum.o","value":"#0000cd"},"value":"#ff0000"}}},
{"data":{"name":"fib"},"mark":{"type":"text","align":"right","baseline":"middle","dy":-8,"color":"#3a3aff","fontSize":12.5},"encoding":{"x":{"datum":190.8,"type":"quantitative"},"y":{"field":"price","type":"quantitative"},"text":{"field":"name"}}},
{"data":{"values":[{"label":"#USDX,H4\u00a0\u00a092.89 93.01 92.84 92.99"}]},"mark":{"type":"text","align":"left","baseline":"middle","color":"#000","fontSize":12.5},"encoding":{"x":{"datum":2.2,"type":"quantitative"},"y":{"datum":95.24,"type":"quantitative"},"text":{"field":"label"}}},
{"data":{"values":[{"s":"menu"}]},"mark":{"type":"point","shape":"triangle-down","filled":true,"color":"#000","size":60,"opacity":1},"encoding":{"x":{"datum":0.65,"type":"quantitative"},"y":{"datum":95.25,"type":"quantitative"}}},
{"data":{"values":[{"s":"box"}]},"mark":{"type":"rect","color":"#000"},"encoding":{"x":{"datum":191.1,"type":"quantitative"},"x2":{"datum":197.4},"y":{"datum":93.035,"type":"quantitative"},"y2":{"datum":92.935}}},
{"data":{"values":[{"label":"92.99"}]},"mark":{"type":"text","align":"left","baseline":"middle","color":"#fff","fontSize":12.5},"encoding":{"x":{"datum":191.8,"type":"quantitative"},"y":{"datum":92.985,"type":"quantitative"},"text":{"field":"label"}}}
]},
{"width":1529,"height":116,
"layer":[
{"data":{"values":[{"level":70},{"level":30}]},"mark":{"type":"rule","color":"#bbbbbb","strokeDash":[2,2],"strokeWidth":1},"encoding":{"y":{"field":"level","type":"quantitative","scale":{"domain":[-0.6,101.8],"nice":false,"zero":false},"axis":{"orient":"right","title":null,"domain":false,"values":[100,70,30,0],"tickCount":20,"labelOverlap":false,"grid":false,"labelOffset":{"condition":[{"test":"datum.value==100","value":9},{"test":"datum.value==0","value":-8}],"value":1},"tickColor":"#000","tickSize":4,"labelPadding":2,"labelFont":"DejaVu Sans","labelFontSize":12.5,"labelColor":"#000"}}}},
{"data":{"name":"candles"},"mark":{"type":"line","color":"#000","strokeWidth":3.5,"clip":true},"encoding":{"x":{"field":"bar","type":"quantitative","scale":{"domain":[-0.06,191.06],"nice":false,"zero":false},"axis":{"title":null,"labels":false,"ticks":false,"domain":false,"grid":true,"gridColor":"#dedef5","gridDash":[3,3],"tickCount":40,"values":[8,16,24,32,40,48,56,64,72,80,88,96,104,112,120,128,136,144,152,160,168,176,184]}},"y":{"field":"rsi","type":"quantitative"}}},
{"data":{"values":[{"label":"RSI(14) 44.8818"}]},"mark":{"type":"text","align":"left","baseline":"middle","color":"#000","fontSize":12.5},"encoding":{"x":{"datum":0.55,"type":"quantitative"},"y":{"datum":90.3,"type":"quantitative"},"text":{"field":"label"}}}
]},
{"width":1529,"height":75,
"layer":[
{"data":{"values":[{"level":0}]},"mark":{"type":"rule","color":"#dedef5","strokeDash":[3,3],"strokeWidth":1},"encoding":{"y":{"field":"level","type":"quantitative","scale":{"domain":[-0.322,0.37],"nice":false,"zero":false},"axis":{"orient":"right","title":null,"domain":false,"values":[0.366,0,-0.32],"tickCount":20,"labelExpr":"datum.value>0?'0.366':datum.value<0?'-0.32':'0.00'","labelOverlap":false,"grid":false,"labelOffset":{"condition":[{"test":"datum.value>0.3","value":11},{"test":"datum.value<-0.3","value":-8}],"value":0},"tickColor":"#000","tickSize":4,"labelPadding":2,"labelFont":"DejaVu Sans","labelFontSize":12.5,"labelColor":"#000"}}}},
{"data":{"name":"candles"},"mark":{"type":"bar","orient":"vertical","size":6,"color":"#000","clip":true},"encoding":{"x":{"field":"bar","type":"quantitative","scale":{"domain":[-0.06,191.06],"nice":false,"zero":false},"axis":{"title":null,"domain":false,"grid":true,"gridColor":"#dedef5","gridDash":[3,3],"tickCount":40,"values":[8,16,24,32,40,48,56,64,72,80,88,96,104,112,120,128,136,144,152,160,168,176,184,0],"labelExpr":"['24 Oct 2017','26 Oct 20:00','31 Oct 12:00','3 Nov 04:00','7 Nov 20:00','10 Nov 12:00','15 Nov 04:00','17 Nov 20:00','22 Nov 16:00','27 Nov 08:00'][datum.value/16] || ''","labelAlign":"left","labelOverlap":false,"labelBound":false,"labelFlush":false,"labelPadding":4,"tickSize":4,"tickColor":"#000","tickOpacity":{"condition":{"test":"datum.value%16==0","value":1},"value":0},"labelFont":"DejaVu Sans","labelFontSize":12.5,"labelColor":"#000"}},"y":{"field":"hist","type":"quantitative"},"y2":{"datum":0}}},
{"data":{"name":"candles"},"mark":{"type":"line","color":"#ff0000","strokeWidth":4,"clip":true},"encoding":{"x":{"field":"bar","type":"quantitative"},"y":{"field":"signal","type":"quantitative"}}},
{"data":{"values":[{"label":"MACD(12,26,9) -0.185"}]},"mark":{"type":"text","align":"left","baseline":"middle","color":"#000","fontSize":12.5},"encoding":{"x":{"datum":0.55,"type":"quantitative"},"y":{"datum":0.25,"type":"quantitative"},"text":{"field":"label"}}},
{"data":{"values":[{"s":"banner"}]},"mark":{"type":"rect","color":"#d13b3b","opacity":0.475},"encoding":{"x":{"datum":-0.06,"type":"quantitative"},"x2":{"datum":49.3},"y":{"datum":0.067,"type":"quantitative"},"y2":{"datum":-0.538}}},
{"data":{"values":[{"label":"www.instaforex"}]},"mark":{"type":"text","font":"Open Sans","fontSize":35,"align":"left","baseline":"alphabetic","color":"#fff","opacity":0.9},"encoding":{"x":{"datum":6.1,"type":"quantitative"},"y":{"datum":-0.345,"type":"quantitative"},"text":{"field":"label"}}},
{"data":{"values":[{"label":".com"}]},"mark":{"type":"text","font":"Open Sans","fontSize":24,"align":"left","baseline":"alphabetic","color":"#fff","opacity":0.9},"encoding":{"x":{"datum":37.8,"type":"quantitative"},"y":{"datum":-0.345,"type":"quantitative"},"text":{"field":"label"}}},
{"data":{"values":[{"label":"["}]},"mark":{"type":"text","font":"Open Sans","fontSize":35,"align":"left","baseline":"alphabetic","color":"#fff","opacity":0.8},"encoding":{"x":{"datum":2.6,"type":"quantitative"},"y":{"datum":-0.345,"type":"quantitative"},"text":{"field":"label"}}},
{"data":{"values":[{"label":"]"}]},"mark":{"type":"text","font":"Open Sans","fontSize":35,"align":"left","baseline":"alphabetic","color":"#fff","opacity":0.8},"encoding":{"x":{"datum":45.2,"type":"quantitative"},"y":{"datum":-0.345,"type":"quantitative"},"text":{"field":"label"}}}
]}
]}
